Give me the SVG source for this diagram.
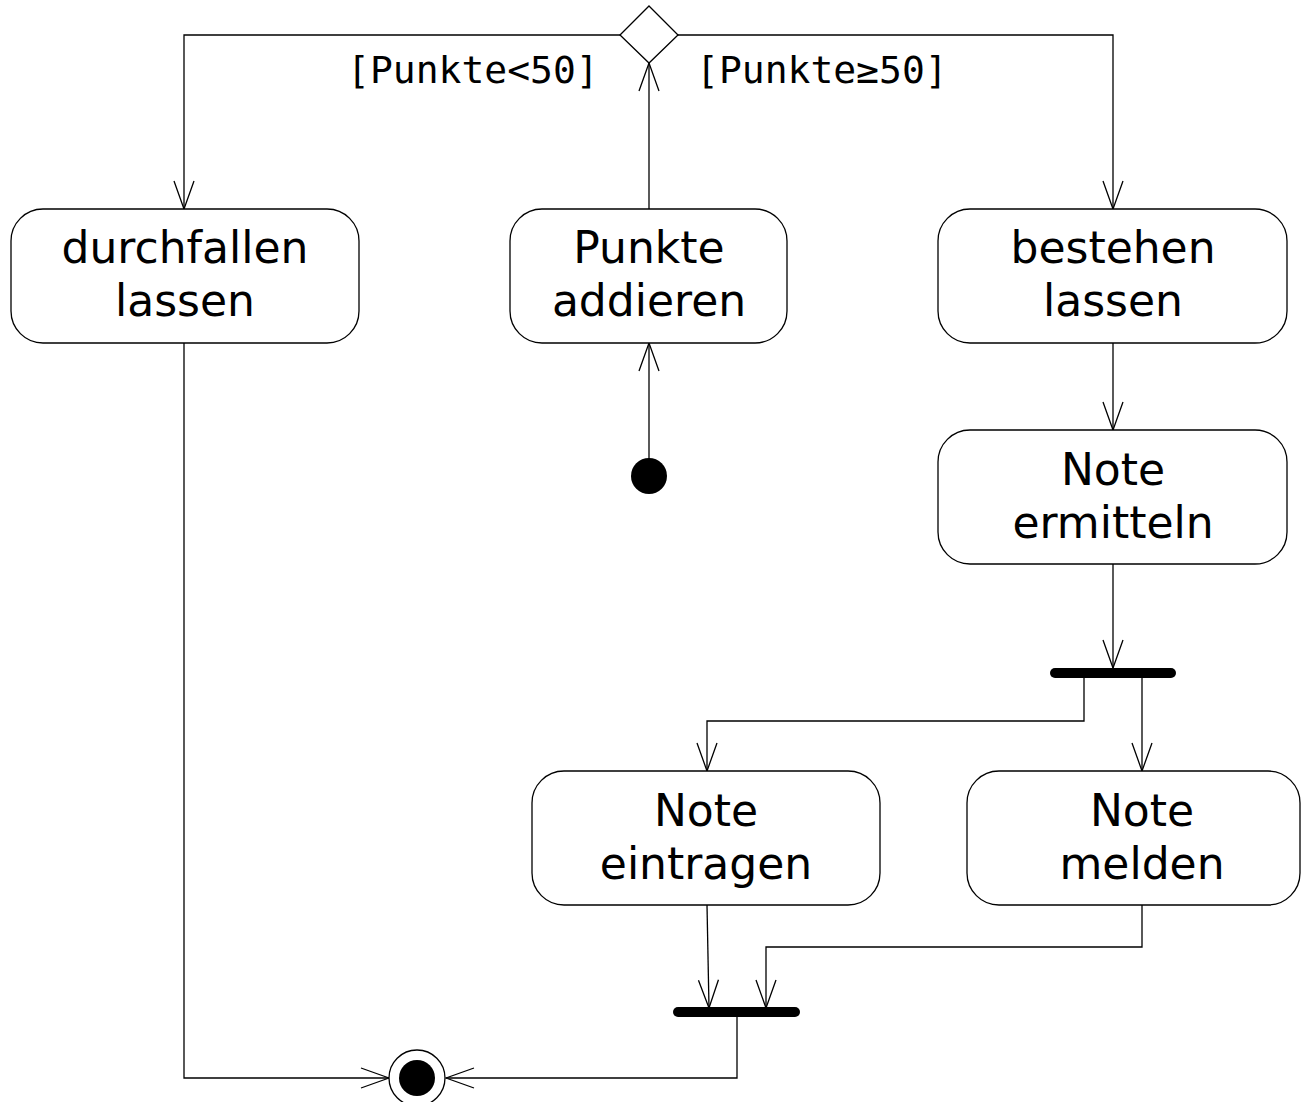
<svg xmlns="http://www.w3.org/2000/svg" width="1302" height="1102" viewBox="0 0 1302 1102">
  <defs>
    <marker id="open" viewBox="0 0 30 24" refX="29" refY="12" markerWidth="30" markerHeight="24" markerUnits="userSpaceOnUse" orient="auto">
      <path d="M1,2 L29,12 L1,22" fill="none" stroke="#000" stroke-width="1.3"/>
    </marker>
  </defs>
  <style>
    .act { fill: #fff; stroke: #000; stroke-width: 1.3; }
    .lbl { font-family: "DejaVu Sans", Verdana, sans-serif; font-size: 44px; text-anchor: middle; fill: #000; }
    .guard { font-family: "DejaVu Sans Mono", "Liberation Mono", monospace; font-size: 38px; fill: #000; }
    .edge { fill: none; stroke: #000; stroke-width: 1.3; marker-end: url(#open); }
    .bar { stroke: #000; stroke-width: 10; stroke-linecap: round; }
  </style>
  <rect width="1302" height="1102" fill="#fff"/>

  <g id="connectors">
    <!-- decision branches -->
    <polyline class="edge" points="620,35 184,35 184,209"/>
    <polyline class="edge" points="678,35 1113,35 1113,209"/>
    <!-- loop back into the decision -->
    <line class="edge" x1="649" y1="209" x2="649" y2="63"/>
    <!-- start into first action -->
    <line class="edge" x1="649" y1="459" x2="649" y2="343"/>
    <line class="edge" x1="1113" y1="343" x2="1113" y2="430"/>
    <line class="edge" x1="1113" y1="564" x2="1113" y2="668"/>
    <!-- fork outputs -->
    <polyline class="edge" points="1084,677 1084,721 707,721 707,771"/>
    <line class="edge" x1="1142" y1="677" x2="1142" y2="771"/>
    <!-- join inputs -->
    <line class="edge" x1="707" y1="905" x2="709" y2="1008"/>
    <polyline class="edge" points="1142,905 1142,947 766,947 766,1008"/>
    <!-- into the final node -->
    <polyline class="edge" points="737,1017 737,1078 446,1078"/>
    <polyline class="edge" points="184,343 184,1078 389,1078"/>
  </g>

  <g id="decision">
    <polygon points="649,6 678,35 649,63 620,35" fill="#fff" stroke="#000" stroke-width="1.3"/>
  </g>
  <g id="guard-fail">
    <text class="guard" x="347" y="83">[Punkte&lt;50]</text>
  </g>
  <g id="guard-pass">
    <text class="guard" x="696" y="83">[Punkte≥50]</text>
  </g>

  <g id="durchfallen-lassen">
    <rect class="act" x="11" y="209" width="348" height="134" rx="32"/>
    <text class="lbl" x="185" y="263">durchfallen</text>
    <text class="lbl" x="185" y="316">lassen</text>
  </g>
  <g id="punkte-addieren">
    <rect class="act" x="510" y="209" width="277" height="134" rx="32"/>
    <text class="lbl" x="649" y="263">Punkte</text>
    <text class="lbl" x="649" y="316">addieren</text>
  </g>
  <g id="bestehen-lassen">
    <rect class="act" x="938" y="209" width="349" height="134" rx="32"/>
    <text class="lbl" x="1113" y="263">bestehen</text>
    <text class="lbl" x="1113" y="316">lassen</text>
  </g>
  <g id="note-ermitteln">
    <rect class="act" x="938" y="430" width="349" height="134" rx="32"/>
    <text class="lbl" x="1113" y="485">Note</text>
    <text class="lbl" x="1113" y="538">ermitteln</text>
  </g>
  <g id="note-eintragen">
    <rect class="act" x="532" y="771" width="348" height="134" rx="32"/>
    <text class="lbl" x="706" y="826">Note</text>
    <text class="lbl" x="706" y="879">eintragen</text>
  </g>
  <g id="note-melden">
    <rect class="act" x="967" y="771" width="333" height="134" rx="32"/>
    <text class="lbl" x="1142" y="826">Note</text>
    <text class="lbl" x="1142" y="879">melden</text>
  </g>

  <g id="start">
    <circle cx="649" cy="476" r="18" fill="#000"/>
  </g>
  <g id="fork">
    <line class="bar" x1="1055" y1="673" x2="1171" y2="673"/>
  </g>
  <g id="join">
    <line class="bar" x1="678" y1="1012" x2="795" y2="1012"/>
  </g>
  <g id="final">
    <circle cx="417" cy="1078" r="28" fill="#fff" stroke="#000" stroke-width="1.3"/>
    <circle cx="417" cy="1078" r="18" fill="#000"/>
  </g>
</svg>
